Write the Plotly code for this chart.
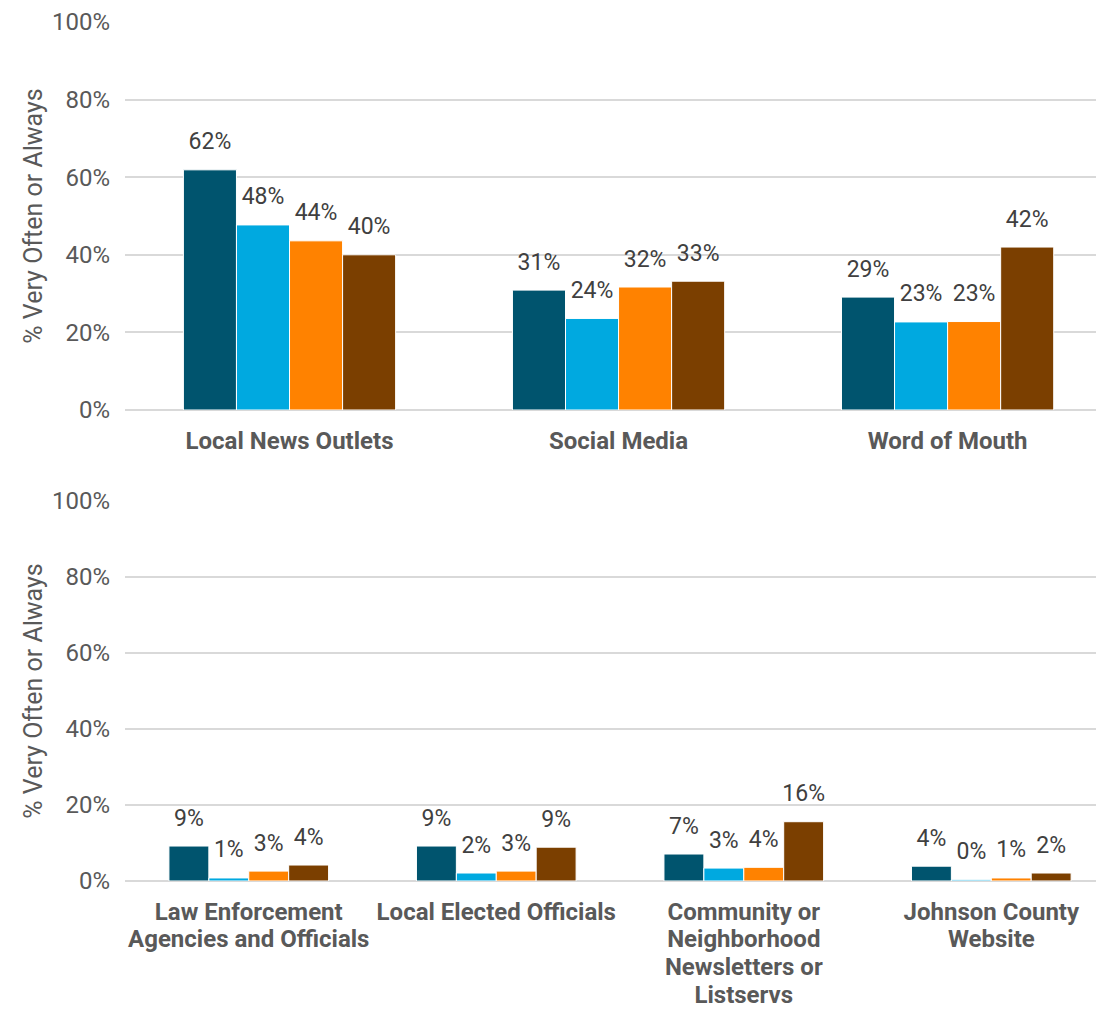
import plotly.graph_objects as go
from plotly.subplots import make_subplots

# ── data ────────────────────────────────────────────────────────────────
top_categories = ["Local News Outlets", "Social Media", "Word of Mouth"]
bottom_categories = [
    "Law Enforcement Agencies and Officials",
    "Local Elected Officials",
    "Community or Neighborhood Newsletters or Listservs",
    "Johnson County Website",
]
# wrapped tick text for the lower panel, one list of lines per category
bottom_tick_lines = [
    ["Law Enforcement", "Agencies and Officials"],
    ["Local Elected Officials"],
    ["Community or", "Neighborhood", "Newsletters or", "Listservs"],
    ["Johnson County", "Website"],
]
series_names = ["Group 1", "Group 2", "Group 3", "Group 4"]

top_values = [
    [61.9, 30.9, 29.1],
    [47.7, 23.6, 22.7],
    [43.6, 31.7, 22.8],
    [40.0, 33.2, 42.0],
]
bottom_values = [
    [9.2, 9.2, 7.1, 3.9],
    [0.8, 2.1, 3.4, 0.3],
    [2.6, 2.6, 3.6, 0.8],
    [4.2, 8.9, 15.6, 2.1],
]

COLORS = ["#00546E", "#00A9E0", "#FF8200", "#7B3F00"]
FONT = "Roboto, 'Open Sans', sans-serif"
GRID = "#D9D9D9"
LABEL = "#595959"
GAP = 0.355

fig = make_subplots(rows=2, cols=1, vertical_spacing=0.1)

for i, name in enumerate(series_names):
    for row, cats, vals in ((1, top_categories, top_values[i]),
                            (2, bottom_categories, bottom_values[i])):
        fig.add_trace(go.Bar(
            x=cats,
            y=vals,
            name=name,
            offsetgroup=str(i),
            marker=dict(color=COLORS[i], line=dict(color="white", width=1)),
            showlegend=False,
            hoverinfo="skip",
        ), row=row, col=1)
        # value labels, grouped the same way as the bars
        fig.add_trace(go.Scatter(
            x=cats,
            y=vals,
            mode="markers+text",
            offsetgroup=str(i),
            marker=dict(size=22, opacity=0),
            text=[f"{v:.0f}%" for v in vals],
            textposition="top center",
            textfont=dict(size=23, color="#404040", family=FONT),
            cliponaxis=False,
            showlegend=False,
            hovertemplate="%{y:.1f}%<extra>" + name + "</extra>",
        ), row=row, col=1)

fig.update_yaxes(
    showgrid=True,
    gridcolor=GRID,
    gridwidth=1.5,
    zeroline=True,
    zerolinecolor=GRID,
    zerolinewidth=1.5,
    range=[0, 100],
    dtick=20,
    ticksuffix="%",
    ticklabelstandoff=14,
    tickfont=dict(size=24, color=LABEL, family=FONT),
    title=dict(text="% Very Often or Always",
               font=dict(size=25, color=LABEL, family=FONT), standoff=2),
)
fig.update_yaxes(domain=[0.5483, 1.0], row=1, col=1)
fig.update_yaxes(domain=[0.0, 0.4424], row=2, col=1)

fig.update_xaxes(
    showgrid=False,
    automargin=False,
    tickfont=dict(size=24, color=LABEL, family=FONT, weight="bold"),
    ticklabelstandoff=14,
)
fig.update_xaxes(range=[-0.5, 2.451], row=1, col=1)

# tighter line spacing: small base font, full-size spans per line
bottom_ticktext = [
    "<br>".join(f"<span style='font-size:24px'>{ln}</span>" for ln in lines)
    for lines in bottom_tick_lines
]
fig.update_xaxes(
    range=[-0.5, 3.423],
    tickmode="array",
    tickvals=bottom_categories,
    ticktext=bottom_ticktext,
    tickfont=dict(size=21.5),
    ticklabelstandoff=16,
    row=2, col=1,
)

fig.update_layout(
    width=1088,
    height=1001,
    barmode="group",
    bargap=GAP,
    bargroupgap=0,
    scattermode="group",
    scattergap=GAP,
    paper_bgcolor="white",
    plot_bgcolor="white",
    font=dict(family=FONT, color=LABEL),
    margin=dict(l=117, r=0, t=14, b=128),
)

fig.write_html("out.html")
